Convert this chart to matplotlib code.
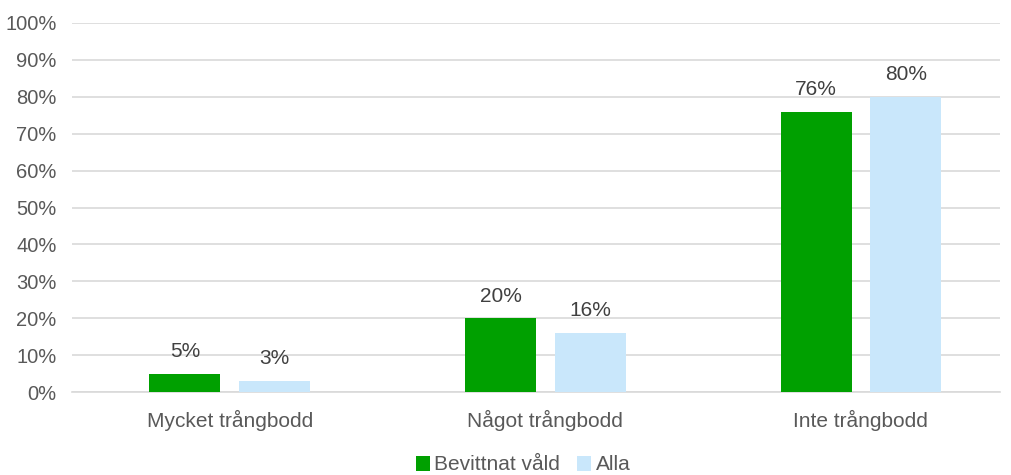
import matplotlib
matplotlib.use("Agg")
import matplotlib.pyplot as plt
import numpy as np

categories = ["Mycket trångbodd", "Något trångbodd", "Inte trångbodd"]
bevittnat = [5, 20, 76]
alla = [3, 16, 80]
series_names = ["Bevittnat våld", "Alla"]

GREEN = "#00A000"
BLUE = "#C9E7FB"
TEXT = "#595959"
GRID = "#D9D9D9"

plt.rcParams["font.family"] = ["Liberation Sans", "DejaVu Sans"]

fig = plt.figure(figsize=(10.11, 4.75), dpi=100)
ax = fig.add_axes([72 / 1011, 1 - 392 / 475, 928 / 1011, 369 / 475])

x = np.arange(len(categories))
width = 0.225
offset = 0.142
b1 = ax.bar(x - offset, bevittnat, width, color=GREEN, label=series_names[0], zorder=3)
b2 = ax.bar(x + offset, alla, width, color=BLUE, label=series_names[1], zorder=3)

for bars in (b1, b2):
    for rect in bars:
        h = rect.get_height()
        ax.annotate(f"{h:.0f}%", (rect.get_x() + rect.get_width() / 2, h),
                    xytext=(0, 9), textcoords="offset points",
                    ha="center", va="bottom", fontsize=15, color="#404040")

ax.set_xlim(-0.5, 2.441)
ax.set_ylim(0, 100)
ax.set_yticks(range(0, 101, 10))
ax.set_yticklabels([f"{v}%" for v in range(0, 101, 10)])
ax.set_xticks(x)
ax.set_xticklabels(categories)
ax.tick_params(axis="both", length=0, labelsize=15, colors=TEXT)
ax.tick_params(axis="y", labelsize=14.5, pad=11)
ax.tick_params(axis="x", pad=13)
ax.yaxis.grid(True, color=GRID, linewidth=1.2, zorder=0)
for side in ("top", "right", "left"):
    ax.spines[side].set_visible(False)
ax.spines["bottom"].set_color(GRID)
ax.spines["bottom"].set_linewidth(1.2)

leg = fig.legend(loc="center", bbox_to_anchor=(523 / 1011, 1 - 465 / 475), ncol=2,
                 frameon=False, fontsize=15, handlelength=0.7, handleheight=0.7,
                 handletextpad=0.2, columnspacing=0.8, borderpad=0)
for t in leg.get_texts():
    t.set_color(TEXT)

fig.savefig("out.png", dpi=100)
